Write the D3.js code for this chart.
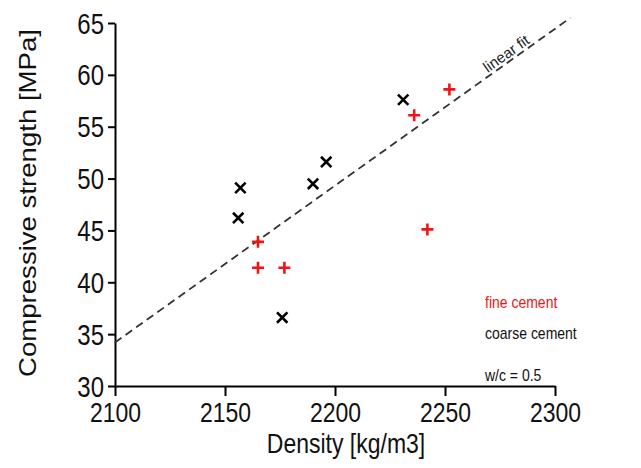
<!DOCTYPE html>
<html>
<head>
<meta charset="utf-8">
<script src="https://cdn.jsdelivr.net/npm/d3@7"></script>
<style>
  html, body { margin: 0; padding: 0; background: #fff; }
  svg { display: block; font-family: "Liberation Sans", Arial, Helvetica, sans-serif; }
</style>
</head>
<body>
<div id="chart"></div>
<script>
// ---- data ----
const coarseDensity = [2157, 2156, 2190, 2196, 2231, 2176];
const coarseStrength = [49.1, 46.2, 49.5, 51.6, 57.6, 36.6];
const fineDensity = [2165, 2165, 2177, 2236, 2242, 2252];
const fineStrength = [43.9, 41.4, 41.4, 56.1, 45.1, 58.6];
const fitDensity = [2100, 2307];
const fitStrength = [34.2, 65.5];
const xTicks = [2100, 2150, 2200, 2250, 2300];
const yTicks = [30, 35, 40, 45, 50, 55, 60, 65];
const legendLabels = ["fine cement", "coarse cement", "w/c = 0.5"];

const W = 641, H = 468;
const SY = 1.2; // vertical stretch of the reference's lettering
const svg = d3.select("#chart").append("svg").attr("width", W).attr("height", H);

const x = d3.scaleLinear().domain([2100, 2300]).range([115, 555]);
const y = d3.scaleLinear().domain([30, 65]).range([386, 23]);

const RED = "#f01414";

// axes
const xAxis = d3.axisBottom(x).tickValues(xTicks).tickSize(10).tickSizeOuter(0).tickFormat(d3.format("d"));
const yAxis = d3.axisLeft(y).tickValues(yTicks).tickSize(7).tickSizeOuter(0).tickFormat(d3.format("d"));

const gx = svg.append("g").attr("transform", `translate(0,${y(30)})`).call(xAxis);
const gy = svg.append("g").attr("transform", `translate(${x(2100)},0)`).call(yAxis);
[gx, gy].forEach(g => {
  g.select(".domain").attr("stroke", "#000").attr("stroke-width", 2);
  g.selectAll(".tick line").attr("stroke", "#000").attr("stroke-width", 2);
  g.selectAll(".tick text").attr("fill", "#111")
    .attr("font-family", "'Liberation Sans', Arial, sans-serif")
    .attr("x", null).attr("y", null).attr("dy", null);
});
gx.selectAll(".tick text").attr("font-size", 23).attr("transform", `translate(0,36) scale(1,${SY})`);
gy.selectAll(".tick text").attr("font-size", 24).attr("transform", `translate(-11,10) scale(1,${SY})`);

// axis titles
svg.append("text")
  .attr("transform", `translate(346,453) scale(1,${SY})`)
  .attr("text-anchor", "middle")
  .attr("font-size", 23).attr("fill", "#111")
  .text("Density [kg/m3]");
svg.append("text")
  .attr("transform", `translate(36,203) rotate(-90) scale(${SY},1)`)
  .attr("text-anchor", "middle")
  .attr("font-size", 23).attr("fill", "#111")
  .text("Compressive strength [MPa]");

// linear fit
const fitPts = fitDensity.map((d, i) => [d, fitStrength[i]]);
svg.append("path")
  .attr("d", d3.line().x(p => x(p[0])).y(p => y(p[1]))(fitPts))
  .attr("fill", "none").attr("stroke", "#333").attr("stroke-width", 1.8)
  .attr("stroke-dasharray", "8,5");

const labD = 2280;
const labV = fitStrength[0] + (labD - fitDensity[0]) * (fitStrength[1] - fitStrength[0]) / (fitDensity[1] - fitDensity[0]);
const ang = Math.atan2(y(fitStrength[1]) - y(fitStrength[0]), x(fitDensity[1]) - x(fitDensity[0])) * 180 / Math.PI;
svg.append("text")
  .attr("transform", `translate(${x(labD)},${y(labV)}) rotate(${ang}) translate(0,-3)`)
  .attr("text-anchor", "middle")
  .attr("font-size", 15).attr("fill", "#222")
  .text("linear fit");

// coarse markers (x)
const s = 5.2;
const coarse = coarseDensity.map((d, i) => [d, coarseStrength[i]]);
const cg = svg.append("g").selectAll("g").data(coarse).join("g")
  .attr("transform", p => `translate(${x(p[0])},${y(p[1])})`);
cg.append("path").attr("d", `M${-s},${-s}L${s},${s}M${-s},${s}L${s},${-s}`)
  .attr("stroke", "#000").attr("stroke-width", 2.6).attr("fill", "none");

// fine markers (+)
const t = 6;
const fine = fineDensity.map((d, i) => [d, fineStrength[i]]);
const fg = svg.append("g").selectAll("g").data(fine).join("g")
  .attr("transform", p => `translate(${x(p[0])},${y(p[1])})`);
fg.append("path").attr("d", `M${-t},0L${t},0M0,${-t}L0,${t}`)
  .attr("stroke", RED).attr("stroke-width", 2.6).attr("fill", "none");

// legend text
const legColors = [RED, "#111", "#111"];
const legY = [308, 339, 381];
svg.append("g").selectAll("text").data(legendLabels).join("text")
  .attr("transform", (d, i) => `translate(485,${legY[i]}) scale(1,${SY})`)
  .attr("font-size", 14).attr("fill", (d, i) => legColors[i])
  .text(d => d);
</script>
</body>
</html>
